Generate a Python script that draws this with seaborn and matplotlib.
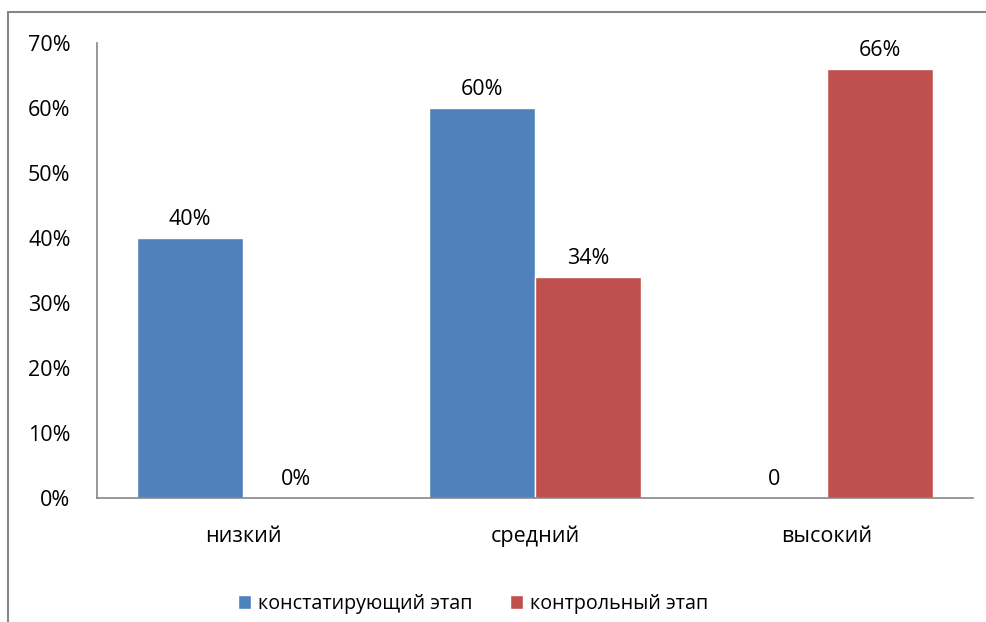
import pandas as pd
import matplotlib.pyplot as plt
import seaborn as sns
from matplotlib.patches import Rectangle

# data
levels = ['низкий', 'средний', 'высокий']
series = ['констатирующий этап', 'контрольный этап']
stage1 = [40, 60, 0]
stage2 = [0, 34, 66]
labels1 = ['40%', '60%', '0']
labels2 = ['0%', '34%', '66%']
colors = ['#4F81BD', '#C0504D']

df = pd.DataFrame({
    'level': levels * 2,
    'value': stage1 + stage2,
    'stage': [series[0]] * 3 + [series[1]] * 3,
})

sns.set_style('white')
plt.rcParams['font.family'] = ['Open Sans', 'DejaVu Sans']
plt.rcParams['text.color'] = 'black'
plt.rcParams['xtick.color'] = 'black'
plt.rcParams['ytick.color'] = 'black'

fs = 15.5
fig = plt.figure(figsize=(9.87, 6.22), dpi=100)
ax = fig.add_axes([97 / 987, 1 - 498 / 622, (973 - 97) / 987, (498 - 43) / 622])

sns.barplot(data=df, x='level', y='value', hue='stage', palette=colors,
            width=0.726, saturation=1, ax=ax, legend=True)

for cont, labs in zip(ax.containers, [labels1, labels2]):
    ax.bar_label(cont, labels=labs, padding=6, fontsize=fs, color='black')

ax.set_ylim(0, 70)
ax.set_yticks(range(0, 71, 10))
ax.set_yticklabels([f'{v}%' for v in range(0, 71, 10)])
ax.set_xlim(-0.5, 2.5)
ax.set_xlabel('')
ax.set_ylabel('')
ax.tick_params(axis='y', length=0, pad=19, labelsize=fs)
ax.tick_params(axis='x', length=0, pad=20, labelsize=fs)
for s in ['top', 'right']:
    ax.spines[s].set_visible(False)
for s in ['left', 'bottom']:
    ax.spines[s].set_color('#868686')
    ax.spines[s].set_linewidth(1.2)

ax.legend(loc='center', bbox_to_anchor=(473 / 987, 1 - 604 / 622), bbox_transform=fig.transFigure,
          ncol=2, frameon=False, fontsize=14.2, handlelength=0.68, handleheight=0.68,
          handletextpad=0.35, columnspacing=1.9)

# outer chart border (cropped at right and bottom)
fig.patches.append(Rectangle((8 / 987, -0.1), 1.2, 1.1 - 12 / 622, transform=fig.transFigure,
                             fill=False, edgecolor='#868686', linewidth=1.5))

fig.savefig('out.png', dpi=100)
